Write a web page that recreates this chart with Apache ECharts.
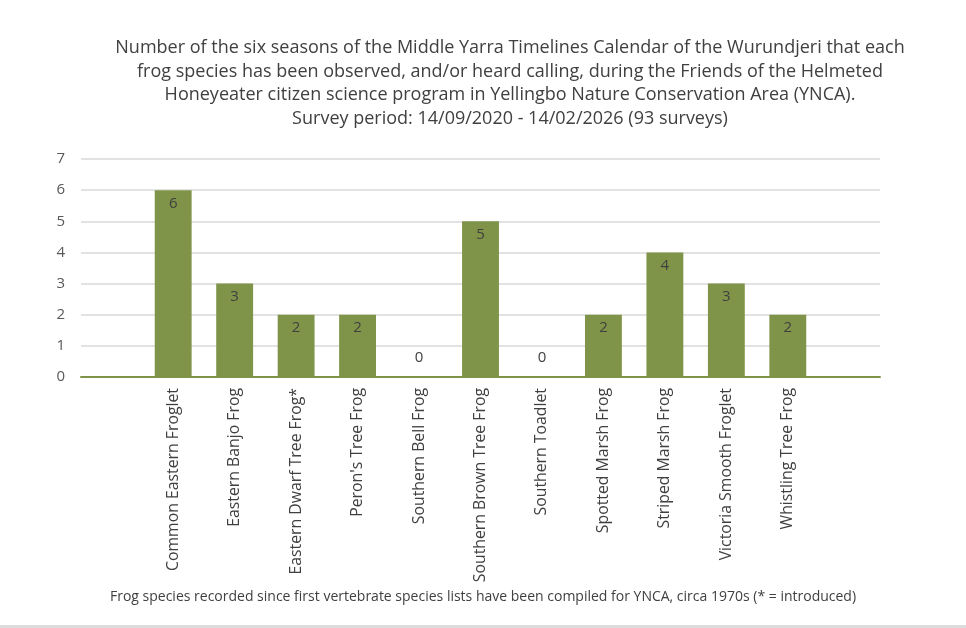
<!DOCTYPE html>
<html lang="en">
<head>
  <meta charset="UTF-8">
  <title>Frog species by Wurundjeri seasons</title>
  <script src="https://cdn.jsdelivr.net/npm/echarts@6.0.0/dist/echarts.min.js"></script>
  <style>
    html, body { margin: 0; padding: 0; background: #fff; }
    #chart { width: 966px; height: 628px; }
  </style>
</head>
<body>
  <div id="chart"></div>
  <script>
    // 分类（两端各留一个空类目，与原图留白一致）
    const species = [
      '',
      'Common Eastern Froglet',
      'Eastern Banjo Frog',
      'Eastern Dwarf Tree Frog*',
      "Peron's Tree Frog",
      'Southern Bell Frog',
      'Southern Brown Tree Frog',
      'Southern Toadlet',
      'Spotted Marsh Frog',
      'Striped Marsh Frog',
      'Victoria Smooth Froglet',
      'Whistling Tree Frog',
      ''
    ];
    // 观测到的季节数
    const seasons = [null, 6, 3, 2, 2, 0, 5, 0, 2, 4, 3, 2, null];

    const titleText = [
      'Number of the six seasons of the Middle Yarra Timelines Calendar of the Wurundjeri that each',
      'frog species has been observed, and/or heard calling, during the Friends of the Helmeted',
      'Honeyeater citizen science program in Yellingbo Nature Conservation Area (YNCA).',
      'Survey period: 14/09/2020 - 14/02/2026 (93 surveys)'
    ].join('\n');
    const captionText = 'Frog species recorded since first vertebrate species lists have been compiled for YNCA, circa 1970s (* = introduced)';

    const green = '#7f9448';
    const font = "'Open Sans', 'Noto Sans', sans-serif";

    const chart = echarts.init(document.getElementById('chart'));
    chart.setOption({
      animation: false,
      textStyle: { fontFamily: font },
      title: {
        text: titleText,
        left: 505,
        top: 31,
        textAlign: 'center',
        textStyle: { fontSize: 18, fontWeight: 'normal', color: '#404040', lineHeight: 23.7, fontFamily: font }
      },
      grid: { left: 81, right: 86, top: 159, bottom: 251 },
      xAxis: {
        type: 'category',
        data: species,
        axisLine: { lineStyle: { color: green, width: 2 } },
        axisTick: { show: false },
        axisLabel: { rotate: 90, interval: 0, margin: 11, fontSize: 15.8, color: '#404040' }
      },
      yAxis: {
        type: 'value',
        min: 0,
        max: 7,
        interval: 1,
        axisLine: { show: false },
        axisTick: { show: false },
        axisLabel: { margin: 16, fontSize: 15, color: '#595959' },
        splitLine: { lineStyle: { color: '#d9d9d9', width: 1.5 } }
      },
      series: [{
        type: 'bar',
        barWidth: '60%',
        itemStyle: { color: green },
        data: seasons.map(v => v === 0
          ? { value: v, label: { position: 'top', distance: 12 } }
          : v),
        label: {
          show: true,
          position: 'insideTop',
          distance: 6,
          fontSize: 15,
          color: '#404040'
        }
      }],
      graphic: [
        {
          type: 'text',
          left: 'center',
          top: 590,
          style: { text: captionText, fontSize: 14, fill: '#404040', fontFamily: font }
        },
        {
          type: 'rect',
          shape: { x: 0, y: 625, width: 966, height: 3 },
          style: { fill: '#dcdcdc' }
        }
      ]
    });
  </script>
</body>
</html>
